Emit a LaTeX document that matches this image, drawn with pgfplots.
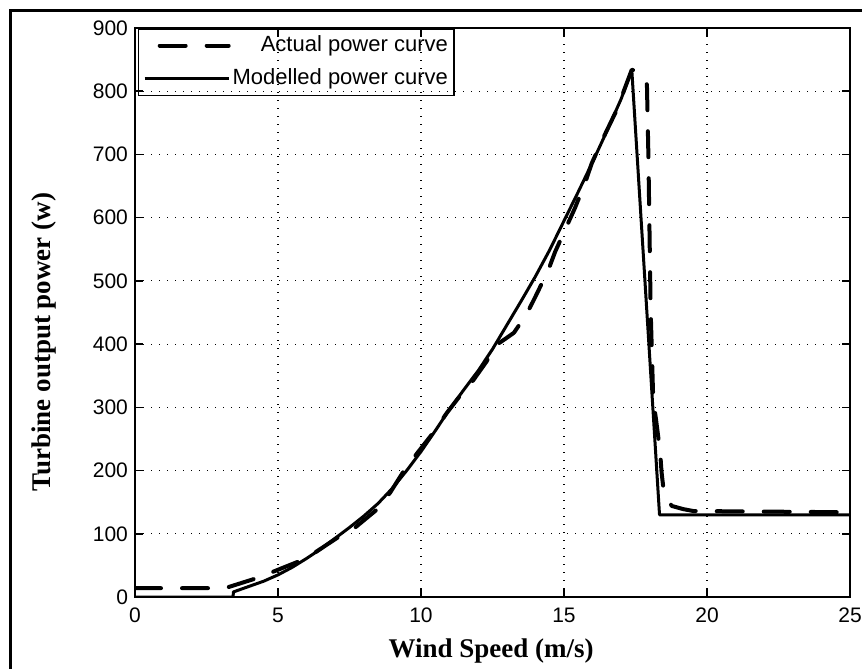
\documentclass[border=0pt]{standalone}
\usepackage{pgfplots}
\pgfplotsset{compat=1.18}
\usepackage{fontspec}
\setmainfont{Liberation Sans}
\newfontfamily\tnr{Liberation Serif}

\pgfplotstableread{
x y
0 0
3.43 0
3.44 8
4.0 17
4.5 25
5.0 35
5.5 47
6.0 61
6.5 76
7.0 93
7.5 110
8.0 128
8.5 148
9.0 172
9.5 200
10.0 230
10.5 263
11.0 297
11.5 328
12.0 358
12.5 392
13.0 430
13.5 468
14.0 507
14.5 549
15.0 595
15.5 641
16.0 688
16.5 737
17.0 788
17.37 834
18.34 130
25 130
}\modelled

\pgfplotstableread{
x y
0 14
3.15 14
4.13 28
4.72 38
5.71 56
6.35 72
7.05 93
7.7 110
8.45 138
8.92 165
9.38 198
9.91 230
10.43 260
10.9 291
11.36 318
11.83 343
12.3 373
12.55 396
13.0 410
13.25 418
13.7 448
14.0 475
14.45 517
14.69 546
15.09 586
15.38 615
15.73 654
15.97 686
16.37 726
16.84 770
17.37 834
17.6 831
17.78 823
17.9 810
17.95 700
18.03 454
18.12 312
18.22 280
18.36 230
18.41 198
18.47 174
18.59 156
18.77 144
19.17 139
19.52 136
25 134
}\actual

\begin{document}
\begin{tikzpicture}
\useasboundingbox (0,0) rectangle (431pt,334.5pt);
\draw[line width=1.5pt] (5pt,-10pt) -- (5pt,329pt) -- (445pt,329pt);
\begin{axis}[
    at={(67.5pt,36pt)}, anchor=south west,
    scale only axis, width=357.5pt, height=284.5pt,
    xmin=0, xmax=25, ymin=0, ymax=900,
    xtick={0,5,...,25}, ytick={0,100,...,900},
    tick pos=both, tick align=inside, major tick length=4pt,
    axis line style={line width=0.9pt},
    tick style={line width=0.8pt, black},
    grid=major,
    major grid style={black, line width=0.6pt, dash pattern=on 0.6pt off 3.4pt},
    ticklabel style={font=\fontsize{10.5}{11.5}\selectfont},
    xticklabel style={yshift=-2pt},
    /pgf/number format/assume math mode=true,
    xlabel={Wind Speed (m/s)},
    xlabel style={font=\fontsize{13.5}{15}\selectfont\tnr\bfseries,
        at={(axis description cs:0.498,-0.107)}, anchor=base},
    ylabel={Turbine output power (w)},
    ylabel style={font=\fontsize{13.5}{15}\selectfont\tnr\bfseries,
        at={(axis description cs:-0.127,0.448)}, anchor=center},
    legend image code/.code={\draw[#1] (0pt,0pt) -- (42pt,0pt);},
    legend cell align=right,
    legend style={at={(axis description cs:0.004,1)}, anchor=north west,
        draw=black, line width=0.8pt, fill=none,
        font=\fontsize{11}{13}\selectfont,
        inner xsep=2pt, inner ysep=0pt, row sep=0pt,
        nodes={text height=8pt, text depth=2.5pt, inner ysep=3.1pt, inner xsep=1pt}},
]
\addplot[black, line width=2pt, line cap=round, line join=round,
    dash pattern=on 13pt off 10.5pt,
    legend image post style={dash phase=16pt}]
    table {\actual};
\addlegendentry{Actual power curve}
\addplot[black, line width=1.5pt, line join=round,
    legend image post style={line width=1.5pt}]
    table {\modelled};
\addlegendentry{Modelled power curve}
\end{axis}
\end{tikzpicture}
\end{document}
